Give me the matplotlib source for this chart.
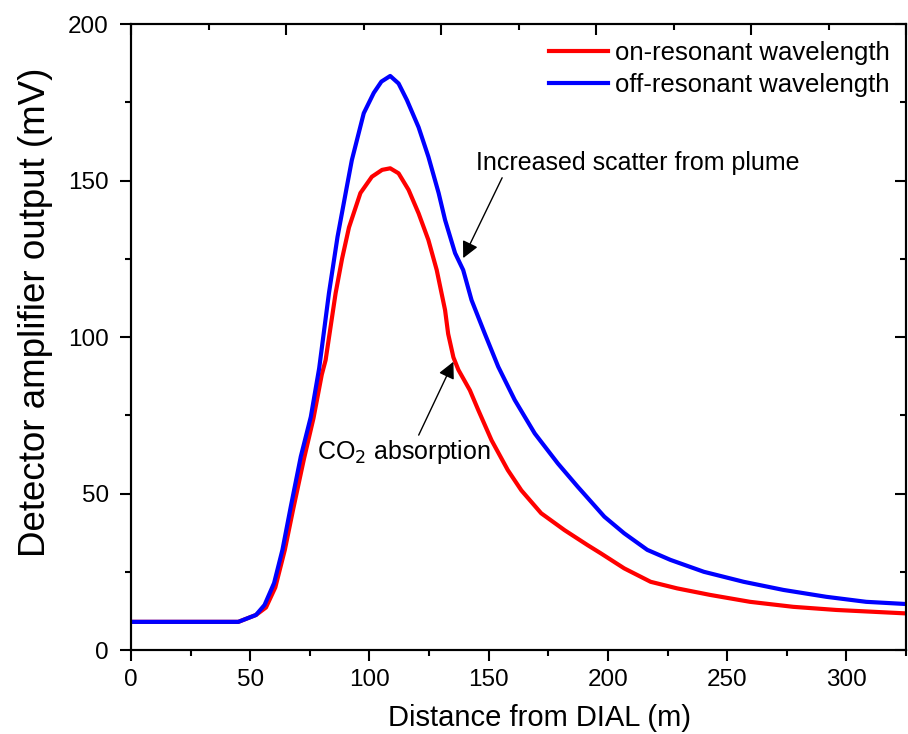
import numpy as np
import matplotlib
matplotlib.use("Agg")
import matplotlib.pyplot as plt
from matplotlib.ticker import MultipleLocator

plt.rcParams['font.family'] = ['Liberation Sans', 'DejaVu Sans']

# on-resonant wavelength (red)
on_x = [0, 10, 20, 30, 45, 52.4, 56.6, 60.5, 64.5, 68, 72.5, 76.5, 80, 81.6, 85.8,
        88.5, 91.4, 96.2, 101, 105.3, 108.7, 112.2, 116.4, 120.6, 124.7, 128.2,
        131.7, 133, 135.2, 137.3, 142.1, 145.6, 151.2, 158, 163.7, 172, 181.8,
        191.5, 197, 206.8, 217.9, 229, 242.9, 259.6, 277.7, 295.8, 325]
on_y = [9, 9, 9, 9, 9, 11.2, 13.6, 20, 32, 45, 61, 74, 88, 92.6, 114,
        125, 135, 146, 151.2, 153.4, 153.9, 152.3, 147, 139.5, 131, 121.4,
        108.6, 101, 93.5, 89.5, 83, 76.7, 67, 57.5, 51, 43.7, 38.3,
        33.5, 30.9, 26.1, 21.8, 19.7, 17.6, 15.4, 13.8, 12.8, 11.7]

# off-resonant wavelength (blue)
off_x = [0, 10, 20, 30, 45, 52.4, 56, 60, 63.5, 67, 71.2, 75.4, 78.9, 83, 86.6,
         90.5, 92.6, 97.6, 101.8, 105, 108.7, 112.2, 115.7, 120.6, 124.7, 129,
         131.7, 135.9, 139.3, 142.8, 148.4, 154, 160.9, 169.3, 179, 187.3, 198.5,
         206.8, 216.5, 226.2, 240.2, 256.9, 273.6, 291.6, 308.3, 325]
off_y = [9, 9, 9, 9, 9, 11.2, 14.4, 21.4, 32, 45.8, 61.8, 74.5, 90, 114, 132,
         148, 156.5, 171.5, 178, 181.6, 183.4, 181, 175.7, 167, 157.6, 146,
         137.4, 126.8, 121.4, 111.8, 101, 90.5, 79.9, 69.2, 59.6, 52.2, 42.6,
         37.3, 32, 28.8, 25, 21.8, 19.2, 17, 15.4, 14.7]

fig = plt.figure(figsize=(9.08, 7.34), dpi=100)
ax = fig.add_axes([0.1443, 0.1144, 0.9978 - 0.1443, 0.9673 - 0.1144])

ax.plot(on_x, on_y, color='#ff0000', lw=3, label='on-resonant wavelength')
ax.plot(off_x, off_y, color='#0000ff', lw=3, label='off-resonant wavelength')

ax.set_xlim(0, 325)
ax.set_ylim(0, 200)
ax.xaxis.set_major_locator(MultipleLocator(50))
ax.xaxis.set_minor_locator(MultipleLocator(25))
ax.yaxis.set_major_locator(MultipleLocator(50))
ax.yaxis.set_minor_locator(MultipleLocator(25))

ax.tick_params(which='both', direction='out', width=1.5, labelsize=17.5)
ax.tick_params(which='major', length=8)
ax.tick_params(which='minor', length=4.5)
ax.tick_params(axis='x', pad=6)
ax.tick_params(axis='y', pad=8)
for s in ax.spines.values():
    s.set_linewidth(1.5)

# right side ticks point inward
ax.yaxis.set_tick_params(which='both', right=True)
for t in ax.yaxis.get_major_ticks() + ax.yaxis.get_minor_ticks():
    t.tick2line.set_marker(matplotlib.lines.TICKLEFT)

# top axis with its own ticks, pointing inward
top = ax.twiny()
top.set_xlim(ax.get_xlim())
top.xaxis.set_major_locator(MultipleLocator(65))
top.xaxis.set_minor_locator(MultipleLocator(32.5))
top.tick_params(which='both', direction='in', width=1.5, labeltop=False)
top.tick_params(which='major', length=8)
top.tick_params(which='minor', length=4.5)
for s in top.spines.values():
    s.set_linewidth(1.5)

ax.set_xlabel('Distance from DIAL (m)', fontsize=21)
ax.set_ylabel('Detector amplifier output (mV)', fontsize=26.5)
ax.xaxis.set_label_coords(0.527, -0.086, transform=ax.transAxes)
ax.xaxis.label.set_va('top')
ax.yaxis.set_label_coords(-0.101, 0.54, transform=ax.transAxes)

ax.legend(loc='upper right', frameon=False, fontsize=18.5, handlelength=2.3,
          handletextpad=0.27, borderaxespad=0.25, labelspacing=0.33)

ax.annotate('Increased scatter from plume', xy=(139.3, 125.2), xytext=(144.8, 155.6),
            fontsize=18, va='center', ha='left',
            arrowprops=dict(arrowstyle='-|>', color='black', lw=1,
                            mutation_scale=25, shrinkA=0, shrinkB=0,
                            relpos=(0.084, 0.0)))
ax.annotate('CO$_2$ absorption', xy=(135.2, 92.1), xytext=(78, 63.3),
            fontsize=18, va='center', ha='left',
            arrowprops=dict(arrowstyle='-|>', color='black', lw=1,
                            mutation_scale=25, shrinkA=0, shrinkB=0,
                            relpos=(0.57, 0.9)))

fig.savefig('out.png', dpi=100)
